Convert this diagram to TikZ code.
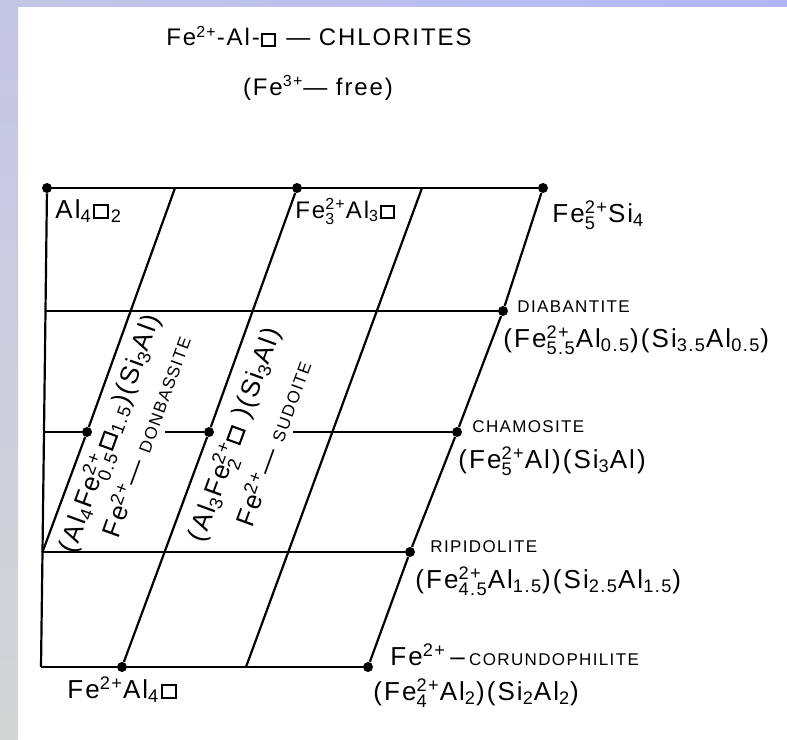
\documentclass[tikz,border=0pt]{standalone}
\usepackage{amsmath}
\usepackage{fontspec}
\setmainfont{Liberation Sans}[LetterSpace=8]
\usepackage{tikz}
\usetikzlibrary{positioning,calc}

\definecolor{frameA}{RGB}{196,198,230}
\definecolor{frameB}{RGB}{178,182,248}
\definecolor{frameC}{RGB}{210,213,211}

\newcommand{\vac}{\kern0.06em\raisebox{0.1ex}{\setlength{\fboxsep}{0pt}\setlength{\fboxrule}{0.08em}\fbox{\rule{0pt}{0.42em}\rule{0.46em}{0pt}}}\kern0.06em}
\newcommand{\iondn}[1]{$_{\text{#1}}$}
\newcommand{\ionup}[1]{$^{\text{#1}}$}
\newcommand{\ionud}[2]{$^{\text{#1}}_{\text{#2}}$}
\newcommand{\mnl}[1]{{\fontsize{8.5}{10}\selectfont #1}}

\begin{document}
\begin{tikzpicture}[x=0.5pt,y=-0.5pt,
  lattice/.style={line width=1.1pt},
  joint/.style={circle,fill,inner sep=0pt,minimum size=5pt},
  formula/.style={font=\fontsize{13}{15}\selectfont,inner sep=0pt},
  mineral/.style={font=\fontsize{8.5}{10}\selectfont,inner sep=0pt},
  headline/.style={font=\fontsize{12}{14}\selectfont,inner sep=0pt}]
  \useasboundingbox (0,0) rectangle (787,739);
  \fill[white] (0,0) rectangle (787,739);
  \shade[left color=frameA,right color=frameB] (0,0) rectangle (787,6);
  \shade[top color=frameA,bottom color=frameC] (0,0) rectangle (18,739);

  \node[headline,anchor=base] (ttl) at (319,46) {Fe\ionup{2+}-Al-\vac{} — CHLORITES};
  \node[headline,anchor=base] (sub) at (318,95) {(Fe\ionup{3+}— free)};

  % corners and points of the lattice
  \node[joint] (t0) at (47,188) {};
  \coordinate (t1) at (175,188);
  \node[joint] (t2) at (297,188) {};
  \coordinate (t3) at (422,188);
  \node[joint] (t4) at (543,188) {};
  \coordinate (l1) at (45.5,311);
  \node[joint] (diab) at (503,311) {};
  \coordinate (l2) at (44,432);
  \node[joint] (dA) at (87,432) {};
  \coordinate (g1) at (165,432);
  \node[joint] (dB) at (209,432) {};
  \coordinate (g2) at (293,432);
  \node[joint] (cham) at (457,432) {};
  \coordinate (l3) at (42.5,552);
  \node[joint] (ripi) at (410,552) {};
  \coordinate (b0) at (41,667);
  \node[joint] (b2) at (122,667) {};
  \coordinate (b3) at (246,667);
  \node[joint] (coru) at (368,667) {};

  \draw[lattice] (t0) -- (l1) -- (l2) -- (l3) -- (b0);
  \draw[lattice] (t0) -- (t2) -- (t4);
  \draw[lattice] (l1) -- (diab);
  \draw[lattice] (l2) -- (dA);
  \draw[lattice] (g1) -- (dB);
  \draw[lattice] (g2) -- (cham);
  \draw[lattice] (l3) -- (ripi);
  \draw[lattice] (b0) -- (b2) -- (coru);
  \draw[lattice] (t1) -- (dA) -- (l3);
  \draw[lattice] (t2) -- (dB) -- (b2);
  \draw[lattice] (t3) -- (b3);
  \draw[lattice] (t4) -- (diab) -- (cham) -- (ripi) -- (coru);

  \node[formula,anchor=base west] (al4) at (55,218) {Al\iondn{4}\vac\iondn{2}};
  \node[formula,font=\fontsize{12}{14}\selectfont,anchor=base west] (fe3) at (295,218) {Fe\ionud{2+}{3}Al\iondn{3}\vac};
  \node[formula,anchor=base west] (fe5) at (552,222) {Fe\ionud{2+}{5}Si\iondn{4}};
  \node[mineral,anchor=base west] (diabname) at (517,312) {DIABANTITE};
  \node[formula,anchor=base west] (diabform) at (503,347) {(Fe\ionud{2+}{5.5}Al\iondn{0.5})(Si\iondn{3.5}Al\iondn{0.5})};
  \node[mineral,anchor=base west] (chamname) at (472,432) {CHAMOSITE};
  \node[formula,anchor=base west] (chamform) at (458,468) {(Fe\ionud{2+}{5}Al)(Si\iondn{3}Al)};
  \node[mineral,anchor=base west] (ripiname) at (430,552) {RIPIDOLITE};
  \node[formula,anchor=base west] (ripiform) at (415,588) {(Fe\ionud{2+}{4.5}Al\iondn{1.5})(Si\iondn{2.5}Al\iondn{1.5})};
  \node[formula,anchor=base west] (coruname) at (390,665) {Fe\ionup{2+}\,–\,\mnl{CORUNDOPHILITE}};
  \node[formula,anchor=base west] (coruform) at (373,700) {(Fe\ionud{2+}{4}Al\iondn{2})(Si\iondn{2}Al\iondn{2})};
  \node[formula,anchor=base west] (fe1) at (67,698) {Fe\ionup{2+}Al\iondn{4}\vac};

  \node[formula,rotate=70] (donform) at (111,434) {(Al\iondn{4}Fe\ionud{2+}{0.5}\vac\iondn{1.5})(Si\iondn{3}Al)};
  \node[formula,rotate=70] (donname) at (145,436) {Fe\ionup{2+}— \mnl{DONBASSITE}};
  \node[formula,rotate=70] (sudform) at (236,435) {(Al\iondn{3}Fe\ionud{2+}{2}\vac\ )(Si\iondn{3}Al)};
  \node[formula,rotate=70] (sudname) at (272,443) {Fe\ionup{2+}— \mnl{SUDOITE}};
\end{tikzpicture}
\end{document}
